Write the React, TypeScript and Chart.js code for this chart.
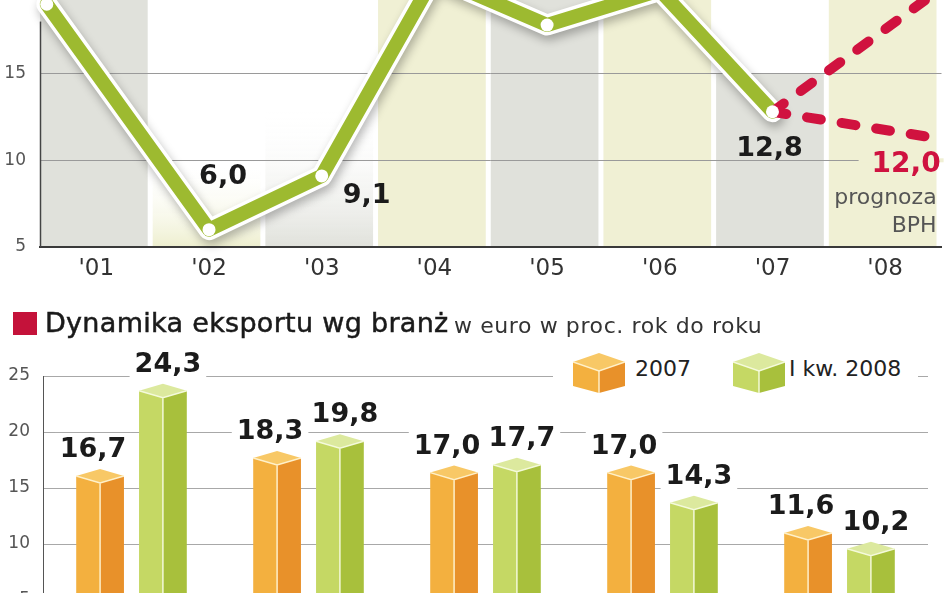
import React, { useEffect, useRef } from "react";
import { Chart, registerables } from "chart.js";

Chart.register(...registerables);

// ---------------- data ----------------
const yearLabels = ["'01", "'02", "'03", "'04", "'05", "'06", "'07", "'08"];
const yearSlots = [1, 2, 3, 4, 5, 6, 7, 8];
const growthX = [0.56, 2, 3, 4, 5, 6, 7];
const growthValues = [19.0, 6.0, 9.1, 20.6, 17.8, 19.8, 12.8];
const forecastX = [7, 8.43];
const forecastHigh = [12.8, 19.6];
const forecastLow = [12.8, 11.3];
const forecastValue = 12.0;
const forecastNote = ["prognoza", "BPH"];
const topYTicks = [5, 10, 15, 20];

const sectorLabels = ["", "", "", "", ""];
const exports2007 = [16.7, 18.3, 17.0, 17.0, 11.6];
const exportsQ1_2008 = [24.3, 19.8, 17.7, 14.3, 10.2];
const seriesNames = ["2007", "I kw. 2008"];

const titleText = "Dynamika eksportu wg branż";
const subtitleText = "w euro w proc. rok do roku";

// ---------------- styles ----------------
const FONT = "'DejaVu Sans', sans-serif";
const fmt = (v: number) => v.toFixed(1).replace(".", ",");

const columnStyles = [
  { fill: "#e0e1db", topValue: null as number | null, fade: false },
  { fill: "#eeefcf", topValue: 10, fade: true },
  { fill: "#e0e1db", topValue: 13, fade: true },
  { fill: "#f0f0d4", topValue: null, fade: false },
  { fill: "#e0e1db", topValue: null, fade: false },
  { fill: "#f0f0d4", topValue: null, fade: false },
  { fill: "#e0e1db", topValue: 15, fade: false },
  { fill: "#f0f0d4", topValue: null, fade: false },
];
const growthLabelOffsets: Record<number, [number, number]> = {
  1: [14, -53],
  2: [45, 20],
  6: [-3, 37],
};
const palettes = [
  { top: "#f8c866", left: "#f3b03f", right: "#e8912a", edge: "rgba(255,242,205,0.95)" },
  { top: "#dce99e", left: "#c5d864", right: "#a8c03c", edge: "rgba(246,251,222,0.95)" },
];
const labelShift = [-7, 5];

// ---------------- top chart ----------------
const columnsPlugin = {
  id: "columns",
  beforeDraw(chart: any) {
    const { ctx, scales } = chart;
    const x = scales.x;
    const y = scales.y;
    ctx.save();
    yearSlots.forEach((slot, i) => {
      const st = columnStyles[i];
      const left = x.getPixelForValue(slot - 0.5);
      const right = x.getPixelForValue(slot + 0.5) - 5;
      const bottom = y.getPixelForValue(5);
      const top = st.topValue == null ? 0 : y.getPixelForValue(st.topValue);
      if (st.fade) {
        const g = ctx.createLinearGradient(0, bottom, 0, top);
        g.addColorStop(0, st.fill);
        g.addColorStop(1, "rgba(255,255,255,0)");
        ctx.fillStyle = g;
      } else {
        ctx.fillStyle = st.fill;
      }
      ctx.fillRect(left, top, right - left, bottom - top);
    });
    ctx.restore();
  },
  beforeDatasetsDraw(chart: any) {
    const { ctx, chartArea, scales } = chart;
    ctx.save();
    // forecast label area interrupts the 10 gridline
    const ex = scales.x.getPixelForValue(forecastX[forecastX.length - 1]);
    const gy = scales.y.getPixelForValue(10);
    ctx.fillStyle = columnStyles[7].fill;
    ctx.fillRect(ex - 75, gy - 2, 85, 4);
    ctx.strokeStyle = "#444";
    ctx.lineWidth = 1.5;
    ctx.beginPath();
    ctx.moveTo(chartArea.left + 0.5, scales.y.getPixelForValue(18));
    ctx.lineTo(chartArea.left + 0.5, chartArea.bottom);
    ctx.stroke();
    ctx.restore();
  },
  beforeDatasetDraw(chart: any, args: any) {
    if (args.index === 4) {
      const c = chart.ctx;
      c.save();
      c.shadowColor = "rgba(0,0,0,0.28)";
      c.shadowBlur = 10;
      c.shadowOffsetX = 2;
      c.shadowOffsetY = 5;
    }
  },
  afterDatasetDraw(chart: any, args: any) {
    if (args.index === 4) chart.ctx.restore();
  },
  afterDatasetsDraw(chart: any) {
    const { ctx, scales } = chart;
    const x = scales.x;
    const y = scales.y;
    ctx.save();
    ctx.textAlign = "center";
    ctx.textBaseline = "middle";
    ctx.font = `bold 27px ${FONT}`;
    ctx.fillStyle = "#1b1b1b";
    growthValues.forEach((v, i) => {
      const off = growthLabelOffsets[i];
      if (!off) return;
      const px = x.getPixelForValue(growthX[i]);
      const py = y.getPixelForValue(v);
      ctx.fillText(fmt(v), px + off[0], py + off[1]);
    });
    const ex = x.getPixelForValue(forecastX[forecastX.length - 1]);
    const ey = y.getPixelForValue(forecastLow[forecastLow.length - 1]);
    ctx.textAlign = "right";
    ctx.fillStyle = "#cf1240";
    ctx.font = `bold 28px ${FONT}`;
    ctx.fillText(fmt(forecastValue), ex + 7, ey + 27);
    ctx.font = `22px ${FONT}`;
    ctx.fillStyle = "#555";
    ctx.fillText(forecastNote[0], ex + 3, ey + 61);
    ctx.fillText(forecastNote[1], ex + 3, ey + 89);
    ctx.restore();
  },
};

function topConfig(): any {
  const pts = growthX.map((x, i) => ({ x, y: growthValues[i] }));
  return {
    type: "line",
    data: {
      datasets: [
        {
          label: "points",
          data: pts,
          showLine: false,
          pointRadius: 6.5,
          pointBackgroundColor: "#ffffff",
          pointBorderWidth: 0,
          clip: false,
        },
        {
          label: "forecast high",
          data: forecastX.map((x, i) => ({ x, y: forecastHigh[i] })),
          borderColor: "#d0123f",
          borderWidth: 10,
          borderDash: [14, 21],
          borderCapStyle: "round",
          pointRadius: 0,
          clip: false,
        },
        {
          label: "forecast low",
          data: forecastX.map((x, i) => ({ x, y: forecastLow[i] })),
          borderColor: "#d0123f",
          borderWidth: 10,
          borderDash: [14, 21],
          borderCapStyle: "round",
          pointRadius: 0,
          clip: false,
        },
        {
          label: "growth",
          data: pts,
          borderColor: "#9dba30",
          borderWidth: 14,
          borderJoinStyle: "round",
          borderCapStyle: "round",
          pointRadius: 0,
          clip: false,
        },
        {
          label: "growth border",
          data: pts,
          borderColor: "#ffffff",
          borderWidth: 21,
          borderJoinStyle: "round",
          borderCapStyle: "round",
          pointRadius: 0,
          clip: false,
        },
      ],
    },
    options: {
      animation: false,
      responsive: false,
      layout: { padding: { top: 11, right: 3, left: 0, bottom: 0 } },
      plugins: { legend: { display: false }, tooltip: { enabled: false } },
      scales: {
        x: {
          type: "linear",
          min: 0.5,
          max: 8.5,
          afterBuildTicks: (s: any) => {
            s.ticks = yearSlots.map((v) => ({ value: v }));
          },
          afterFit: (s: any) => {
            s.height = 43;
          },
          ticks: {
            callback: (v: number) => yearLabels[yearSlots.indexOf(v)],
            color: "#333",
            font: { family: FONT, size: 23 },
            padding: 8,
            autoSkip: false,
            maxRotation: 0,
          },
          grid: { display: false, drawTicks: false },
          border: { display: true, color: "#3a3a3a", width: 2 },
        },
        y: {
          min: 5,
          max: 22,
          afterBuildTicks: (s: any) => {
            s.ticks = topYTicks.map((v) => ({ value: v }));
          },
          afterFit: (s: any) => {
            s.width = 40;
          },
          ticks: { color: "#555", font: { family: FONT, size: 17 }, padding: 14 },
          grid: {
            color: (c: any) => (c.tick && c.tick.value === 5 ? "rgba(0,0,0,0)" : "#9a9a9a"),
            lineWidth: 1,
            drawTicks: false,
          },
          border: { display: false },
        },
      },
    },
    plugins: [columnsPlugin],
  };
}

// ---------------- bottom chart ----------------
const bars3dPlugin = {
  id: "bars3d",
  afterDatasetsDraw(chart: any) {
    const { ctx } = chart;
    ctx.save();
    const all: any[] = [];
    chart.data.datasets.forEach((ds: any, di: number) => {
      const meta = chart.getDatasetMeta(di);
      const p = palettes[di];
      meta.data.forEach((bar: any, i: number) => {
        const { x, y, width, base } = bar.getProps(["x", "y", "width", "base"], true);
        const L = x - width / 2;
        const R = x + width / 2;
        const h = 7;
        ctx.fillStyle = p.left;
        ctx.beginPath();
        ctx.moveTo(L, y + h);
        ctx.lineTo(x, y + 2 * h);
        ctx.lineTo(x, base);
        ctx.lineTo(L, base);
        ctx.closePath();
        ctx.fill();
        ctx.fillStyle = p.right;
        ctx.beginPath();
        ctx.moveTo(x, y + 2 * h);
        ctx.lineTo(R, y + h);
        ctx.lineTo(R, base);
        ctx.lineTo(x, base);
        ctx.closePath();
        ctx.fill();
        ctx.fillStyle = p.top;
        ctx.beginPath();
        ctx.moveTo(x, y);
        ctx.lineTo(R, y + h);
        ctx.lineTo(x, y + 2 * h);
        ctx.lineTo(L, y + h);
        ctx.closePath();
        ctx.fill();
        ctx.strokeStyle = p.edge;
        ctx.lineWidth = 1.5;
        ctx.beginPath();
        ctx.moveTo(L, y + h);
        ctx.lineTo(x, y + 2 * h);
        ctx.lineTo(R, y + h);
        ctx.moveTo(x, y + 2 * h);
        ctx.lineTo(x, base);
        ctx.stroke();
        all.push({ x: x + labelShift[di], y, v: ds.data[i] });
      });
    });
    ctx.font = `bold 27px ${FONT}`;
    ctx.textAlign = "center";
    ctx.textBaseline = "alphabetic";
    all.forEach((l) => {
      const t = fmt(l.v);
      const w = ctx.measureText(t).width;
      ctx.fillStyle = "#ffffff";
      ctx.fillRect(l.x - w / 2 - 5, l.y - 12 - 24, w + 10, 30);
    });
    ctx.fillStyle = "#1b1b1b";
    all.forEach((l) => {
      ctx.fillText(fmt(l.v), l.x, l.y - 12);
    });
    ctx.restore();
  },
};

function bottomConfig(): any {
  return {
    type: "bar",
    data: {
      labels: sectorLabels,
      datasets: [
        {
          label: seriesNames[0],
          data: exports2007,
          backgroundColor: "rgba(0,0,0,0)",
          categoryPercentage: 0.71,
          barPercentage: 0.76,
        },
        {
          label: seriesNames[1],
          data: exportsQ1_2008,
          backgroundColor: "rgba(0,0,0,0)",
          categoryPercentage: 0.71,
          barPercentage: 0.76,
        },
      ],
    },
    options: {
      animation: false,
      responsive: false,
      layout: { padding: { top: 86, right: 20, bottom: 34, left: 0 } },
      plugins: { legend: { display: false }, tooltip: { enabled: false } },
      scales: {
        x: { display: false },
        y: {
          min: 0,
          max: 25,
          ticks: { stepSize: 5, color: "#555", font: { family: FONT, size: 17 }, padding: 13 },
          grid: { color: "#a8a8a8", lineWidth: 1, drawTicks: false },
          border: { display: true, color: "#555", width: 1 },
          afterFit: (s: any) => {
            s.width = 43;
          },
        },
      },
    },
    plugins: [bars3dPlugin],
  };
}

function Cube({ p }: { p: any }) {
  return (
    <svg width={52} height={40} viewBox="0 0 52 40" style={{ display: "block" }}>
      <polygon points="0,9 26,18 26,40 0,33" fill={p.left} />
      <polygon points="26,18 52,9 52,33 26,40" fill={p.right} />
      <polygon points="26,0 52,9 26,18 0,9" fill={p.top} />
      <polyline points="0,9 26,18 52,9" fill="none" stroke={p.edge} strokeWidth={1.5} />
      <line x1={26} y1={18} x2={26} y2={40} stroke={p.edge} strokeWidth={1.5} />
    </svg>
  );
}

export default function App() {
  const topRef = useRef<HTMLCanvasElement>(null);
  const botRef = useRef<HTMLCanvasElement>(null);
  useEffect(() => {
    const c1 = new Chart(topRef.current as HTMLCanvasElement, topConfig());
    const c2 = new Chart(botRef.current as HTMLCanvasElement, bottomConfig());
    return () => {
      c1.destroy();
      c2.destroy();
    };
  }, []);
  const abs = (o: any) => ({ position: "absolute" as const, whiteSpace: "nowrap" as const, ...o });
  return (
    <div
      style={{
        position: "fixed",
        left: 0,
        top: 0,
        width: 948,
        height: 593,
        overflow: "hidden",
        background: "#fff",
        fontFamily: FONT,
      }}
    >
      <canvas ref={topRef} width={948} height={362} style={{ position: "absolute", left: 0, top: -72 }} />
      <canvas ref={botRef} width={948} height={400} style={{ position: "absolute", left: 0, top: 290 }} />
      <div style={abs({ left: 13, top: 312, width: 24, height: 23, background: "#c4123a" })} />
      <div
        style={abs({
          left: 45,
          top: 308,
          fontSize: 27,
          lineHeight: "30px",
          letterSpacing: "0.3px",
          color: "#1a1a1a",
          WebkitTextStroke: "0.5px #1a1a1a",
        })}
      >
        {titleText}
      </div>
      <div style={abs({ left: 454, top: 313, fontSize: 22, lineHeight: "26px", letterSpacing: "0.6px", color: "#333" })}>
        {subtitleText}
      </div>
      <div style={abs({ left: 553, top: 348, width: 365, height: 48, background: "#fff" })} />
      <div style={abs({ left: 573, top: 353 })}>
        <Cube p={palettes[0]} />
      </div>
      <div style={abs({ left: 635, top: 356, fontSize: 22, lineHeight: "26px", color: "#222" })}>{seriesNames[0]}</div>
      <div style={abs({ left: 733, top: 353 })}>
        <Cube p={palettes[1]} />
      </div>
      <div style={abs({ left: 789, top: 356, fontSize: 22, lineHeight: "26px", color: "#222" })}>{seriesNames[1]}</div>
    </div>
  );
}
